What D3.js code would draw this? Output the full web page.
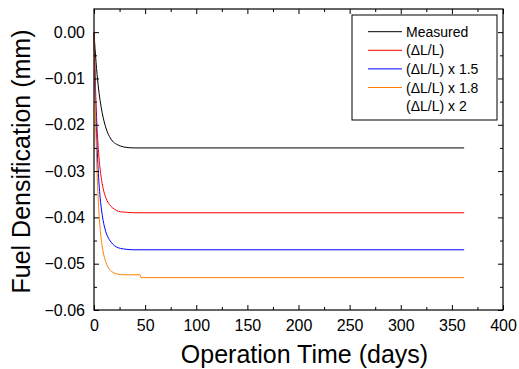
<!DOCTYPE html>
<html>
<head>
<meta charset="utf-8">
<script src="https://cdn.jsdelivr.net/npm/d3@7"></script>
<style>
  body { margin: 0; background: #fff; }
  text { font-family: Arial, "Liberation Sans", sans-serif; fill: #000; }
</style>
</head>
<body>
<div id="container"></div>
<script>
let w = 519;
let h = 369;
let margin = {left: 94, right: 16, top: 9, bottom: 59};

// days and fuel densification (mm)
let days = [0, 1, 2, 3, 4, 5, 6, 8, 10, 12, 15, 18, 22, 26, 32, 40, 362];
let measured = [0, -0.0035, -0.0065, -0.0091, -0.0113, -0.0132, -0.0148, -0.0174, -0.0194, -0.0209, -0.0225, -0.0235, -0.0242, -0.0246, -0.0249, -0.0250, -0.0250];
let dll1 = [0, -0.0086, -0.0154, -0.0206, -0.0245, -0.0274, -0.0296, -0.0327, -0.0347, -0.0360, -0.0372, -0.0379, -0.0385, -0.0388, -0.0389, -0.0390, -0.0390];
let dll15 = [0, -0.0104, -0.0186, -0.0248, -0.0295, -0.0330, -0.0357, -0.0394, -0.0418, -0.0434, -0.0448, -0.0457, -0.0464, -0.0467, -0.0469, -0.0470, -0.0470];
let daysOrange = [0, 1, 2, 3, 4, 5, 6, 8, 10, 12, 15, 18, 22, 30, 45, 45.8, 362];
let dll18 = [0, -0.0130, -0.0228, -0.0302, -0.0356, -0.0395, -0.0424, -0.0462, -0.0485, -0.0499, -0.0512, -0.0518, -0.0522, -0.0524, -0.0524, -0.0530, -0.0530];

let legendLabels = ["Measured", "(\u0394L/L)", "(\u0394L/L) x 1.5", "(\u0394L/L) x 1.8", "(\u0394L/L) x 2"];
let legendColors = ["#000000", "#ff0000", "#0000ff", "#ff8000", null];

let xTicks = [0, 50, 100, 150, 200, 250, 300, 350, 400];
let xMinor = [25, 75, 125, 175, 225, 275, 325, 375];
let yTicks = [0, -0.01, -0.02, -0.03, -0.04, -0.05, -0.06];
let yMinor = [-0.005, -0.015, -0.025, -0.035, -0.045, -0.055];

let viz = d3.select("#container")
  .append("svg")
    .attr("width", w)
    .attr("height", h)
    .style("background-color", "#fff");

let xScale = d3.scaleLinear().domain([0, 400]).range([margin.left, w - margin.right]);
let yScale = d3.scaleLinear().domain([-0.06, 0.005]).range([h - margin.bottom, margin.top]);

function zip(xs, ys) {
  return xs.map((d, i) => ({t: d, v: ys[i]}));
}

let series = [
  {data: zip(days, measured), color: "#000000"},
  {data: zip(days, dll1), color: "#ff0000"},
  {data: zip(days, dll15), color: "#0000ff"},
  {data: zip(daysOrange, dll18), color: "#ff8000"}
];

let line = d3.line()
  .x(d => xScale(d.t))
  .y(d => yScale(d.v))
  .curve(d3.curveMonotoneX);

viz.selectAll(".series")
  .data(series)
  .enter()
  .append("path")
    .attr("class", "series")
    .attr("d", d => line(d.data))
    .attr("fill", "none")
    .attr("stroke", d => d.color)
    .attr("stroke-width", 1);

// axes, ticks inside on all four sides
let x0 = margin.left, x1 = w - margin.right, y0 = h - margin.bottom, y1 = margin.top;

function styleAxis(g) {
  g.select(".domain").remove();
  g.selectAll(".tick line").attr("stroke", "#000").attr("stroke-width", 1);
  g.selectAll(".tick text").style("font-size", "16px").style("font-family", "Arial, 'Liberation Sans', sans-serif");
}

let bottomAxis = viz.append("g").attr("transform", "translate(0," + y0 + ")")
  .call(d3.axisBottom(xScale).tickValues(xTicks).tickSize(-5).tickPadding(9.5).tickSizeOuter(0));
styleAxis(bottomAxis);
let bottomMinor = viz.append("g").attr("transform", "translate(0," + y0 + ")")
  .call(d3.axisBottom(xScale).tickValues(xMinor).tickSize(-3).tickFormat(""));
styleAxis(bottomMinor);

let topAxis = viz.append("g").attr("transform", "translate(0," + y1 + ")")
  .call(d3.axisTop(xScale).tickValues(xTicks).tickSize(-5).tickFormat(""));
styleAxis(topAxis);
let topMinor = viz.append("g").attr("transform", "translate(0," + y1 + ")")
  .call(d3.axisTop(xScale).tickValues(xMinor).tickSize(-3).tickFormat(""));
styleAxis(topMinor);

let leftAxis = viz.append("g").attr("transform", "translate(" + x0 + ",0)")
  .call(d3.axisLeft(yScale).tickValues(yTicks).tickSize(-5).tickPadding(9).tickFormat(d3.format(".2f")));
styleAxis(leftAxis);
let leftMinor = viz.append("g").attr("transform", "translate(" + x0 + ",0)")
  .call(d3.axisLeft(yScale).tickValues(yMinor).tickSize(-3).tickFormat(""));
styleAxis(leftMinor);

let rightAxis = viz.append("g").attr("transform", "translate(" + x1 + ",0)")
  .call(d3.axisRight(yScale).tickValues(yTicks).tickSize(-5).tickFormat(""));
styleAxis(rightAxis);
let rightMinor = viz.append("g").attr("transform", "translate(" + x1 + ",0)")
  .call(d3.axisRight(yScale).tickValues(yMinor).tickSize(-3).tickFormat(""));
styleAxis(rightMinor);

// frame
viz.append("rect")
  .attr("x", x0).attr("y", y1)
  .attr("width", x1 - x0).attr("height", y0 - y1)
  .attr("fill", "none").attr("stroke", "#000").attr("stroke-width", 1.2);

// axis titles
viz.append("text")
  .attr("x", (x0 + x1) / 2 + 6)
  .attr("y", 363)
  .attr("text-anchor", "middle")
  .style("font-size", "25px")
  .text("Operation Time (days)");

viz.append("text")
  .attr("transform", "translate(30," + ((y0 + y1) / 2 + 2) + ") rotate(-90)")
  .attr("text-anchor", "middle")
  .style("font-size", "25px")
  .text("Fuel Densification (mm)");

// legend
let legend = viz.append("g").attr("class", "legend");
legend.append("rect")
  .attr("x", 352).attr("y", 15)
  .attr("width", 145).attr("height", 105)
  .attr("fill", "#fff").attr("stroke", "#000").attr("stroke-width", 1);

let rows = legend.selectAll(".row")
  .data(legendLabels)
  .enter()
  .append("g")
    .attr("class", "row")
    .attr("transform", (d, i) => "translate(0," + (31.7 + i * 18.6) + ")");

rows.filter((d, i) => legendColors[i] !== null)
  .append("line")
    .attr("x1", 368).attr("x2", 402)
    .attr("y1", 0).attr("y2", 0)
    .attr("stroke", d => legendColors[legendLabels.indexOf(d)])
    .attr("stroke-width", 1);

rows.append("text")
  .attr("x", 406)
  .attr("y", 5)
  .style("font-size", "14px")
  .text(d => d);
</script>
</body>
</html>
